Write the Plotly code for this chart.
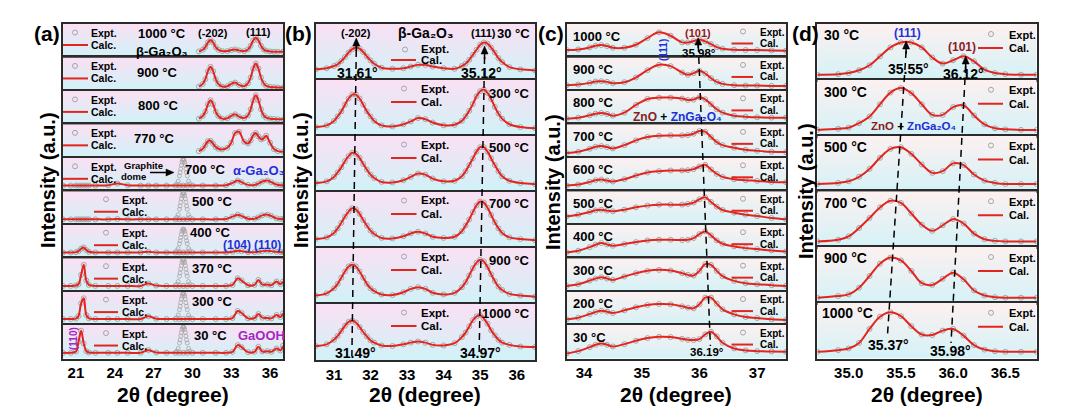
import plotly.graph_objects as go

# ---------------- data (y = fraction of each strip height) ----------------
# panel (a)
a_temps = ["1000 °C", "900 °C", "800 °C", "770 °C", "700 °C",
           "500 °C", "400 °C", "370 °C", "300 °C", "30 °C"]
xa_beta = [30.5, 30.8, 31.0, 31.2, 31.4, 31.6, 31.8, 32.0, 32.3, 32.7, 33.0, 33.3, 33.6,
           34.0, 34.3, 34.5, 34.7, 34.9, 35.1, 35.3, 35.5, 35.7, 36.0, 36.3, 36.6, 37.0]
ya_1000 = [0.18, 0.23, 0.31, 0.45, 0.52, 0.45, 0.31, 0.23, 0.19, 0.19, 0.22, 0.24, 0.21,
           0.19, 0.24, 0.35, 0.51, 0.60, 0.51, 0.35, 0.24, 0.20, 0.18, 0.17, 0.17, 0.17]
ya_900 = [0.13, 0.21, 0.35, 0.59, 0.72, 0.59, 0.35, 0.21, 0.13, 0.14, 0.21, 0.25, 0.18,
          0.14, 0.23, 0.40, 0.67, 0.82, 0.67, 0.40, 0.23, 0.15, 0.12, 0.11, 0.10, 0.10]
ya_800 = [0.17, 0.25, 0.38, 0.60, 0.72, 0.60, 0.38, 0.25, 0.17, 0.18, 0.25, 0.30, 0.23,
          0.19, 0.27, 0.45, 0.72, 0.87, 0.72, 0.45, 0.27, 0.20, 0.17, 0.16, 0.15, 0.15]
ya_770 = [0.20, 0.27, 0.38, 0.50, 0.51, 0.42, 0.32, 0.27, 0.25, 0.30, 0.45, 0.74, 0.78,
          0.48, 0.43, 0.52, 0.68, 0.74, 0.64, 0.55, 0.58, 0.66, 0.45, 0.26, 0.20, 0.18]
xa_full = [20.0, 20.6, 21.0, 21.2, 21.4, 21.6, 21.8, 22.0, 22.5, 23.5, 24.2, 25.0, 26.0,
           26.6, 27.2, 28.0, 28.7, 29.0, 29.3, 29.6, 30.0, 30.8, 31.8, 32.6, 33.1, 33.5,
           33.8, 34.3, 34.8, 35.1, 35.4, 35.8, 36.1, 36.5, 36.8, 37.0]
ya_700 = [0.17, 0.17, 0.17, 0.17, 0.17, 0.17, 0.17, 0.17, 0.17, 0.18, 0.23, 0.18, 0.17,
          0.17, 0.17, 0.17, 0.17, 0.17, 0.17, 0.17, 0.17, 0.17, 0.17, 0.18, 0.25, 0.32,
          0.27, 0.19, 0.19, 0.23, 0.29, 0.32, 0.27, 0.20, 0.18, 0.18]
ya_500 = [0.16, 0.16, 0.16, 0.16, 0.16, 0.16, 0.16, 0.16, 0.16, 0.16, 0.17, 0.16, 0.16,
          0.16, 0.16, 0.16, 0.16, 0.16, 0.16, 0.16, 0.16, 0.16, 0.16, 0.17, 0.24, 0.30,
          0.26, 0.18, 0.18, 0.22, 0.28, 0.30, 0.26, 0.19, 0.17, 0.17]
ya_400 = [0.17, 0.17, 0.18, 0.21, 0.28, 0.32, 0.24, 0.19, 0.17, 0.17, 0.17, 0.17, 0.17,
          0.19, 0.17, 0.17, 0.17, 0.17, 0.17, 0.17, 0.17, 0.17, 0.17, 0.17, 0.19, 0.22,
          0.21, 0.18, 0.18, 0.19, 0.21, 0.22, 0.21, 0.19, 0.18, 0.18]
ya_370 = [0.17, 0.17, 0.18, 0.22, 0.50, 0.80, 0.33, 0.20, 0.17, 0.17, 0.17, 0.17, 0.17,
          0.24, 0.18, 0.17, 0.17, 0.17, 0.17, 0.17, 0.17, 0.17, 0.17, 0.17, 0.20, 0.40,
          0.33, 0.19, 0.20, 0.35, 0.21, 0.21, 0.19, 0.30, 0.22, 0.30]
ya_300 = [0.18, 0.18, 0.19, 0.27, 0.65, 0.80, 0.30, 0.20, 0.18, 0.18, 0.18, 0.18, 0.18,
          0.26, 0.19, 0.18, 0.18, 0.18, 0.18, 0.18, 0.18, 0.18, 0.18, 0.18, 0.21, 0.42,
          0.36, 0.20, 0.21, 0.33, 0.22, 0.21, 0.20, 0.30, 0.24, 0.35]
ya_30 = [0.17, 0.17, 0.21, 0.50, 0.83, 0.45, 0.22, 0.18, 0.17, 0.17, 0.17, 0.17, 0.17,
         0.25, 0.18, 0.17, 0.17, 0.17, 0.17, 0.17, 0.17, 0.17, 0.17, 0.17, 0.20, 0.40,
         0.34, 0.19, 0.20, 0.35, 0.21, 0.22, 0.20, 0.30, 0.24, 0.38]
graphite_x = [28.8, 28.9, 29.0, 29.05, 29.1, 29.15, 29.2, 29.25, 29.3, 29.35, 29.4,
              29.45, 29.5, 29.55, 29.6, 29.7, 29.8]
graphite_hi = [0.22, 0.30, 0.46, 0.56, 0.67, 0.78, 0.87, 0.93, 0.95, 0.93, 0.87,
               0.78, 0.67, 0.56, 0.46, 0.30, 0.22]
graphite_400 = [0.22, 0.29, 0.43, 0.52, 0.62, 0.72, 0.80, 0.85, 0.87, 0.85, 0.80,
                0.72, 0.62, 0.52, 0.43, 0.29, 0.22]

# panel (b)
b_temps = ["30 °C", "300 °C", "500 °C", "700 °C", "900 °C", "1000 °C"]
xb = [30.5, 30.8, 31.0, 31.1, 31.2, 31.3, 31.4, 31.5, 31.6, 31.7, 31.8, 31.9, 32.0, 32.1,
      32.3, 32.6, 32.9, 33.1, 33.3, 33.5, 33.7, 34.0, 34.3, 34.5, 34.6, 34.7, 34.8, 34.9,
      35.0, 35.1, 35.2, 35.3, 35.4, 35.5, 35.6, 35.8, 36.1, 36.5]
yb_30 = [0.19, 0.21, 0.25, 0.28, 0.34, 0.41, 0.49, 0.55, 0.58, 0.56, 0.50, 0.42, 0.35, 0.29,
         0.22, 0.20, 0.21, 0.24, 0.27, 0.27, 0.24, 0.21, 0.20, 0.25, 0.29, 0.36, 0.45, 0.54,
         0.63, 0.67, 0.65, 0.58, 0.49, 0.39, 0.32, 0.23, 0.19, 0.17]
yb_300 = [0.16, 0.19, 0.27, 0.35, 0.44, 0.56, 0.67, 0.74, 0.74, 0.67, 0.56, 0.44, 0.35, 0.27,
          0.19, 0.17, 0.21, 0.26, 0.32, 0.30, 0.24, 0.19, 0.20, 0.27, 0.35, 0.45, 0.57, 0.71,
          0.80, 0.83, 0.77, 0.66, 0.52, 0.40, 0.31, 0.21, 0.16, 0.14]
yb_500 = [0.16, 0.19, 0.27, 0.35, 0.44, 0.55, 0.64, 0.70, 0.68, 0.61, 0.50, 0.40, 0.31, 0.25,
          0.18, 0.17, 0.21, 0.27, 0.33, 0.31, 0.24, 0.19, 0.20, 0.28, 0.37, 0.48, 0.60, 0.72,
          0.80, 0.80, 0.72, 0.60, 0.48, 0.37, 0.28, 0.20, 0.16, 0.14]
yb_700 = [0.16, 0.19, 0.27, 0.35, 0.45, 0.56, 0.65, 0.71, 0.69, 0.61, 0.50, 0.40, 0.31, 0.25,
          0.18, 0.17, 0.21, 0.26, 0.29, 0.26, 0.20, 0.18, 0.20, 0.30, 0.40, 0.51, 0.64, 0.76,
          0.83, 0.81, 0.72, 0.59, 0.46, 0.35, 0.27, 0.19, 0.16, 0.14]
yb_900 = [0.15, 0.19, 0.28, 0.36, 0.47, 0.58, 0.67, 0.70, 0.67, 0.58, 0.47, 0.36, 0.28, 0.23,
          0.17, 0.16, 0.21, 0.27, 0.30, 0.27, 0.20, 0.17, 0.20, 0.30, 0.39, 0.51, 0.64, 0.74,
          0.79, 0.76, 0.66, 0.53, 0.41, 0.31, 0.25, 0.18, 0.15, 0.13]
yb_1000 = [0.25, 0.28, 0.36, 0.43, 0.52, 0.61, 0.68, 0.70, 0.67, 0.59, 0.50, 0.42, 0.35, 0.31,
           0.26, 0.25, 0.28, 0.31, 0.33, 0.31, 0.27, 0.26, 0.30, 0.41, 0.49, 0.60, 0.71, 0.78,
           0.80, 0.74, 0.65, 0.53, 0.44, 0.36, 0.31, 0.27, 0.24, 0.23]
b_peak_202 = [31.61, 31.49]   # top strip, bottom strip
b_peak_111 = [35.12, 34.97]

# panel (c)
c_temps = ["1000 °C", "900 °C", "800 °C", "700 °C", "600 °C",
           "500 °C", "400 °C", "300 °C", "200 °C", "30 °C"]
xc = [33.7, 33.9, 34.1, 34.2, 34.3, 34.4, 34.5, 34.7, 34.9, 35.1, 35.3, 35.5, 35.7,
      35.8, 35.9, 36.0, 36.1, 36.2, 36.3, 36.4, 36.6, 36.8, 37.0, 37.25, 37.5]
yc_1000 = [0.22, 0.24, 0.30, 0.35, 0.37, 0.34, 0.29, 0.29, 0.38, 0.58, 0.75, 0.65, 0.45,
           0.45, 0.49, 0.54, 0.48, 0.40, 0.31, 0.26, 0.23, 0.22, 0.22, 0.21, 0.20]
yc_900 = [0.17, 0.19, 0.24, 0.28, 0.29, 0.27, 0.23, 0.26, 0.40, 0.62, 0.78, 0.74, 0.55,
          0.48, 0.53, 0.60, 0.52, 0.38, 0.27, 0.21, 0.17, 0.16, 0.16, 0.15, 0.15]
yc_800 = [0.17, 0.20, 0.27, 0.32, 0.34, 0.31, 0.26, 0.35, 0.58, 0.76, 0.80, 0.80, 0.77,
          0.73, 0.74, 0.81, 0.75, 0.60, 0.45, 0.35, 0.26, 0.23, 0.21, 0.20, 0.20]
yc_700 = [0.14, 0.18, 0.27, 0.33, 0.35, 0.32, 0.28, 0.38, 0.52, 0.62, 0.66, 0.67, 0.67,
          0.68, 0.72, 0.80, 0.78, 0.62, 0.47, 0.38, 0.30, 0.24, 0.21, 0.18, 0.17]
yc_600 = [0.17, 0.20, 0.28, 0.33, 0.35, 0.32, 0.29, 0.36, 0.47, 0.56, 0.60, 0.62, 0.62,
          0.63, 0.66, 0.74, 0.79, 0.65, 0.52, 0.43, 0.36, 0.33, 0.31, 0.28, 0.27]
yc_500 = [0.25, 0.30, 0.38, 0.43, 0.45, 0.42, 0.40, 0.45, 0.52, 0.57, 0.60, 0.60, 0.60,
          0.62, 0.66, 0.76, 0.82, 0.68, 0.54, 0.44, 0.36, 0.30, 0.26, 0.20, 0.16]
yc_400 = [0.17, 0.22, 0.33, 0.40, 0.45, 0.41, 0.37, 0.42, 0.48, 0.53, 0.55, 0.55, 0.54,
          0.55, 0.60, 0.72, 0.80, 0.68, 0.53, 0.43, 0.35, 0.30, 0.27, 0.23, 0.20]
yc_300 = [0.17, 0.22, 0.33, 0.39, 0.43, 0.39, 0.35, 0.45, 0.55, 0.62, 0.65, 0.63, 0.55,
          0.50, 0.48, 0.62, 0.82, 0.80, 0.62, 0.46, 0.32, 0.25, 0.22, 0.19, 0.17]
yc_200 = [0.17, 0.22, 0.33, 0.39, 0.43, 0.40, 0.36, 0.44, 0.53, 0.60, 0.63, 0.62, 0.56,
          0.52, 0.50, 0.62, 0.82, 0.82, 0.64, 0.47, 0.32, 0.24, 0.21, 0.17, 0.15]
yc_30 = [0.15, 0.22, 0.34, 0.41, 0.45, 0.41, 0.36, 0.43, 0.53, 0.61, 0.65, 0.64, 0.59,
         0.56, 0.55, 0.58, 0.72, 0.80, 0.66, 0.47, 0.30, 0.24, 0.22, 0.21, 0.20]
c_peak_101 = [35.98, 36.19]

# panel (d)
d_temps = ["30 °C", "300 °C", "500 °C", "700 °C", "900 °C", "1000 °C"]
xd = [34.7, 34.9, 35.0, 35.1, 35.2, 35.3, 35.4, 35.5, 35.6, 35.7, 35.8, 35.9, 36.0,
      36.1, 36.2, 36.3, 36.4, 36.5, 36.65, 36.8]
yd_30 = [0.09, 0.10, 0.12, 0.17, 0.26, 0.42, 0.58, 0.67, 0.67, 0.58, 0.40, 0.29, 0.35,
         0.42, 0.33, 0.18, 0.12, 0.10, 0.09, 0.09]
yd_300 = [0.10, 0.12, 0.14, 0.22, 0.34, 0.56, 0.77, 0.85, 0.76, 0.56, 0.37, 0.37, 0.51,
          0.54, 0.36, 0.20, 0.13, 0.11, 0.10, 0.10]
yd_500 = [0.13, 0.15, 0.18, 0.26, 0.40, 0.60, 0.76, 0.79, 0.67, 0.48, 0.33, 0.36, 0.50,
          0.47, 0.30, 0.19, 0.15, 0.13, 0.13, 0.13]
yd_700 = [0.10, 0.13, 0.19, 0.34, 0.52, 0.71, 0.83, 0.79, 0.60, 0.40, 0.29, 0.39, 0.50,
          0.42, 0.24, 0.14, 0.11, 0.10, 0.10, 0.10]
yd_900 = [0.09, 0.12, 0.15, 0.27, 0.48, 0.70, 0.81, 0.76, 0.57, 0.35, 0.32, 0.43, 0.54,
          0.42, 0.22, 0.13, 0.10, 0.09, 0.09, 0.09]
yd_1000 = [0.12, 0.15, 0.18, 0.28, 0.53, 0.75, 0.83, 0.76, 0.58, 0.43, 0.42, 0.50, 0.53,
           0.41, 0.24, 0.16, 0.13, 0.12, 0.12, 0.12]
d_peak_111 = [35.55, 35.37]
d_peak_101 = [36.12, 35.98]

ticks_a = [21, 24, 27, 30, 33, 36]
ticks_b = [31, 32, 33, 34, 35, 36]
ticks_c = [34, 35, 36, 37]
ticks_d = [35.0, 35.5, 36.0, 36.5]
ticktext_d = ["35.0", "35.5", "36.0", "36.5"]

# ---------------- styling / layout ----------------
W, H = 1084, 415
FONT = "Liberation Sans, Arial, DejaVu Sans, sans-serif"
RED = "#e3241f"
GRAY = "#a5a5a5"
BLUE = "#1f2fd8"
DARKRED = "#8e1b1b"
PURPLE = "#a726c2"
FRAME = "#2b2b2b"
BG_AB = ("#fae0f3", "#d0f2f8")
BG_CD = ("#fdf0f0", "#d4f2f7")
DASH = "7px,5px"
BETA = "β-Ga₂O₃"
ALPHA = "α-Ga₂O₃"
ZNO_LABEL = (f'<span style="color:{DARKRED}">ZnO</span> + '
             f'<span style="color:{BLUE}">ZnGa₂O₄</span>')


def fx(p):
    return p / W


def fy(p):
    return 1 - p / H


fig = go.Figure()
axes = {}
ann = []
shp = []
counter = [0]


def add_strip(x0, x1, rtop, rbot, xr, xs, ys, bottom, tickvals, ticktext, bg, gx=None, gy=None):
    counter[0] += 1
    k = counter[0]
    xa = "x" if k == 1 else f"x{k}"
    ya = "y" if k == 1 else f"y{k}"
    fig.add_trace(go.Scatter(
        x=[xr[0], xr[1], xr[1], xr[0], xr[0]], y=[0, 0, 1, 1, 0],
        mode="none", fill="toself",
        fillgradient=dict(type="vertical", colorscale=[[0, bg[1]], [1, bg[0]]]),
        hoverinfo="skip", showlegend=False, xaxis=xa, yaxis=ya))
    mk = dict(symbol="circle-open", size=5, color=GRAY, line=dict(width=1, color=GRAY))
    fig.add_trace(go.Scatter(x=xs, y=ys, mode="markers", marker=mk, name="Expt.",
                             showlegend=False, xaxis=xa, yaxis=ya))
    if gx is not None:
        fig.add_trace(go.Scatter(x=gx, y=gy, mode="markers", name="Expt.",
                                 marker=dict(symbol="circle-open", size=4, color=GRAY,
                                             line=dict(width=0.8, color=GRAY)),
                                 showlegend=False, xaxis=xa, yaxis=ya))
    fig.add_trace(go.Scatter(x=xs, y=ys, mode="lines", name="Calc.",
                             line=dict(color=RED, width=2, shape="spline"),
                             showlegend=False, xaxis=xa, yaxis=ya))
    xkey = "xaxis" if k == 1 else f"xaxis{k}"
    ykey = "yaxis" if k == 1 else f"yaxis{k}"
    axes[xkey] = dict(domain=[fx(x0), fx(x1)], range=xr, anchor=ya, showline=True, mirror=True,
                      linecolor=FRAME, linewidth=1.5, showgrid=False, zeroline=False, ticks="",
                      showticklabels=bottom, tickvals=tickvals, ticktext=ticktext,
                      ticklabelstandoff=0,
                      tickfont=dict(family=FONT, size=15, color="black", weight="bold"))
    axes[ykey] = dict(domain=[fy(rbot), fy(rtop)], range=[0, 1], anchor=xa, showline=True,
                      mirror=True, linecolor=FRAME, linewidth=1.5, showgrid=False,
                      zeroline=False, ticks="", showticklabels=False)
    return xa, ya


def txt(px, py, s, size=13, color="black", xanchor="center", angle=0):
    ann.append(dict(x=fx(px), y=fy(py), xref="paper", yref="paper", text=f"<b>{s}</b>",
                    showarrow=False, xanchor=xanchor, yanchor="middle", textangle=angle,
                    font=dict(family=FONT, size=size, color=color)))


def legend_glyph(cx, cy, lx0, lx1, ly, tx, ty_e, ty_c, label_c, size):
    shp.append(dict(type="circle", xref="paper", yref="paper", xsizemode="pixel",
                    ysizemode="pixel", xanchor=fx(cx), yanchor=fy(cy), x0=-2.5, x1=2.5,
                    y0=-2.5, y1=2.5, line=dict(color=GRAY, width=1)))
    shp.append(dict(type="line", xref="paper", yref="paper", x0=fx(lx0), x1=fx(lx1),
                    y0=fy(ly), y1=fy(ly), line=dict(color=RED, width=2)))
    txt(tx, ty_e, "Expt.", size, xanchor="left")
    txt(tx, ty_c, label_c, size, xanchor="left")


def up_arrow(xref, xval, py_tip, px_per_unit, head=8, stem=5):
    hw = 3.5 / px_per_unit
    shp.append(dict(type="path", xref=xref, yref="paper",
                    path=f"M {xval},{fy(py_tip)} L {xval - hw},{fy(py_tip + head)} "
                         f"L {xval + hw},{fy(py_tip + head)} Z",
                    fillcolor="black", line=dict(color="black", width=0.5)))
    shp.append(dict(type="line", xref=xref, yref="paper", x0=xval, x1=xval,
                    y0=fy(py_tip + head), y1=fy(py_tip + head + stem),
                    line=dict(color="black", width=1.5)))


def dashed(xref, xtop, xbot, pytop, pybot):
    shp.append(dict(type="line", xref=xref, yref="paper", x0=xtop, x1=xbot, y0=fy(pytop),
                    y1=fy(pybot), line=dict(color="black", width=1.5, dash=DASH)))


# ---- panel (a) ----
a_rows = [(xa_beta, ya_1000, None, None), (xa_beta, ya_900, None, None),
          (xa_beta, ya_800, None, None), (xa_beta, ya_770, None, None),
          (xa_full, ya_700, graphite_x, graphite_hi), (xa_full, ya_500, graphite_x, graphite_hi),
          (xa_full, ya_400, graphite_x, graphite_400), (xa_full, ya_370, graphite_x, graphite_hi),
          (xa_full, ya_300, graphite_x, graphite_hi), (xa_full, ya_30, graphite_x, graphite_hi)]
A_X0, A_X1, A_T, A_B = 63, 283, 24, 358.5
ah = (A_B - A_T) / len(a_rows)
a_temp_pos = [(162, 34), (157, 72.5), (158, 105), (154, 138), (205, 169),
              (212, 202), (210, 232.5), (212, 268), (212, 301), (210, 335)]
for i, (xs, ys, gx, gy) in enumerate(a_rows):
    rt = A_T + i * ah
    add_strip(A_X0, A_X1, rt, rt + ah, [20, 37], xs, ys, i == len(a_rows) - 1,
              ticks_a, [str(t) for t in ticks_a], BG_AB, gx, gy)
    if i < 5:
        legend_glyph(75, rt + 8.5, 63, 88, rt + 21, 89, rt + 9, rt + 21, "Calc.", 10.5)
    else:
        legend_glyph(106, rt + 8, 94, 118, rt + 20.5, 120, rt + 8.5, rt + 20.5, "Calc.", 10.5)
    txt(a_temp_pos[i][0], a_temp_pos[i][1], a_temps[i], 13)
txt(162, 51.5, BETA, 13)
txt(213, 33, "(-202)", 11)
txt(258, 32, "(111)", 11)
txt(259, 170, ALPHA, 13, BLUE)
txt(143, 165, "Graphite", 9.5)
txt(133, 176.5, "dome", 9.5)
shp.append(dict(type="line", xref="paper", yref="paper", x0=fx(150), x1=fx(167),
                y0=fy(172.5), y1=fy(172.5), line=dict(color="black", width=1.5)))
shp.append(dict(type="path", xref="paper", yref="paper",
                path=f"M {fx(174)},{fy(172.5)} L {fx(166)},{fy(169)} L {fx(166)},{fy(176)} Z",
                fillcolor="black", line=dict(color="black", width=0.5)))
txt(237, 244.5, "(104)", 12, BLUE)
txt(267, 244.5, "(110)", 12, BLUE)
txt(261, 335, "GaOOH", 13, PURPLE)
txt(73, 339, "(110)", 10, PURPLE, angle=-90)

# ---- panel (b) ----
b_rows = [yb_30, yb_300, yb_500, yb_700, yb_900, yb_1000]
B_X0, B_X1, B_T, B_B = 315.7, 535, 24, 360
bh = (B_B - B_T) / len(b_rows)
b_ppu = (B_X1 - B_X0) / 6.0
b_temp_y = [33, 93, 147, 203, 260, 313]
b_first = None
for i, ys in enumerate(b_rows):
    rt = B_T + i * bh
    xa, ya = add_strip(B_X0, B_X1, rt, rt + bh, [30.5, 36.5], xb, ys, i == len(b_rows) - 1,
                       ticks_b, [str(t) for t in ticks_b], BG_AB)
    if b_first is None:
        b_first = xa
    if i == 0:
        legend_glyph(405, 49.5, 391, 416, 60, 419, 49, 60.5, "Cal.", 11.5)
    else:
        legend_glyph(404, rt + 8.5, 391, 416.5, rt + 22, 419, rt + 8.5, rt + 22, "Cal.", 11.5)
    txt(532, b_temp_y[i], b_temps[i], 13, xanchor="right")
txt(356, 33, "(-202)", 11)
txt(425, 33, BETA, 14)
txt(483, 33, "(111)", 11)
txt(357, 73, "31.61°", 14)
txt(482, 73, "35.12°", 14)
txt(355, 353, "31.49°", 14)
txt(480, 353, "34.97°", 14)
dashed(b_first, b_peak_202[0], b_peak_202[1], 50, 356)
dashed(b_first, b_peak_111[0], b_peak_111[1], 57, 356)
up_arrow(b_first, b_peak_202[0], 38, b_ppu)
up_arrow(b_first, b_peak_111[0], 46, b_ppu)

# ---- panel (c) ----
c_rows = [yc_1000, yc_900, yc_800, yc_700, yc_600, yc_500, yc_400, yc_300, yc_200, yc_30]
C_X0, C_X1, C_T, C_B = 566.7, 786, 24, 358.5
ch = (C_B - C_T) / len(c_rows)
c_ppu = (C_X1 - C_X0) / 3.8
c_first = None
for i, ys in enumerate(c_rows):
    rt = C_T + i * ch
    xa, ya = add_strip(C_X0, C_X1, rt, rt + ch, [33.7, 37.5], xc, ys, i == len(c_rows) - 1,
                       ticks_c, [str(t) for t in ticks_c], BG_CD)
    if c_first is None:
        c_first = xa
    legend_glyph(743, rt + 7.5, 731.5, 753, rt + 19.5, 757.5, rt + 8, rt + 19.5, "Cal.", 10)
    txt(571, rt + 12, c_temps[i], 13, xanchor="left")
txt(664, 50, "(111)", 10, BLUE, angle=-90)
txt(698, 33, "(101)", 11, DARKRED)
txt(699, 52.5, "35.98°", 11.5)
txt(677, 117, ZNO_LABEL, 12)
txt(707, 352, "36.19°", 11.5)
dashed(c_first, c_peak_101[0], c_peak_101[1], 45, 346)
up_arrow(c_first, c_peak_101[0], 38, c_ppu, head=7, stem=3)

# ---- panel (d) ----
d_rows = [yd_30, yd_300, yd_500, yd_700, yd_900, yd_1000]
D_X0, D_X1, D_T, D_B = 817.3, 1036.7, 24, 358.5
dh = (D_B - D_T) / len(d_rows)
d_ppu = (D_X1 - D_X0) / 2.1
d_temp_y = [35, 91.5, 146.5, 203, 258, 313]
d_first = None
for i, ys in enumerate(d_rows):
    rt = D_T + i * dh
    xa, ya = add_strip(D_X0, D_X1, rt, rt + dh, [34.7, 36.8], xd, ys, i == len(d_rows) - 1,
                       ticks_d, ticktext_d, BG_CD)
    if d_first is None:
        d_first = xa
    legend_glyph(991, rt + 10, 978, 1003, rt + 24, 1006.5, rt + 10.5, rt + 24, "Cal.", 11)
    txt(822 if i < 5 else 820, d_temp_y[i], d_temps[i], 14, xanchor="left")
txt(907, 33, "(111)", 12, BLUE)
txt(962, 47, "(101)", 12, DARKRED)
txt(908, 69, "35.55°", 14)
txt(963, 74, "36.12°", 14)
txt(913, 126, ZNO_LABEL, 11.5)
txt(888, 345, "35.37°", 14)
txt(950, 351, "35.98°", 14)
dashed(d_first, d_peak_111[0], d_peak_111[1], 51, 338)
dashed(d_first, d_peak_101[0], d_peak_101[1], 66, 343)
up_arrow(d_first, d_peak_111[0], 41, d_ppu)
up_arrow(d_first, d_peak_101[0], 56, d_ppu)

# ---- panel labels & axis titles ----
for lab, px in [("(a)", 47), ("(b)", 298), ("(c)", 551), ("(d)", 805)]:
    txt(px, 33, lab, 21)
for px, py in [(48, 180), (301, 180), (553, 182), (806, 191)]:
    txt(px, py, "Intensity (a.u.)", 20, angle=-90)
for px in [173, 425, 676, 927]:
    txt(px, 394, "2θ (degree)", 21)

fig.update_layout(width=W, height=H, margin=dict(l=0, r=0, t=0, b=0),
                  paper_bgcolor="white", plot_bgcolor="white", showlegend=False,
                  annotations=ann, shapes=shp, **axes)
fig.write_html("out.html", config={"displayModeBar": False},
               post_script="document.body.style.margin='0px';")
